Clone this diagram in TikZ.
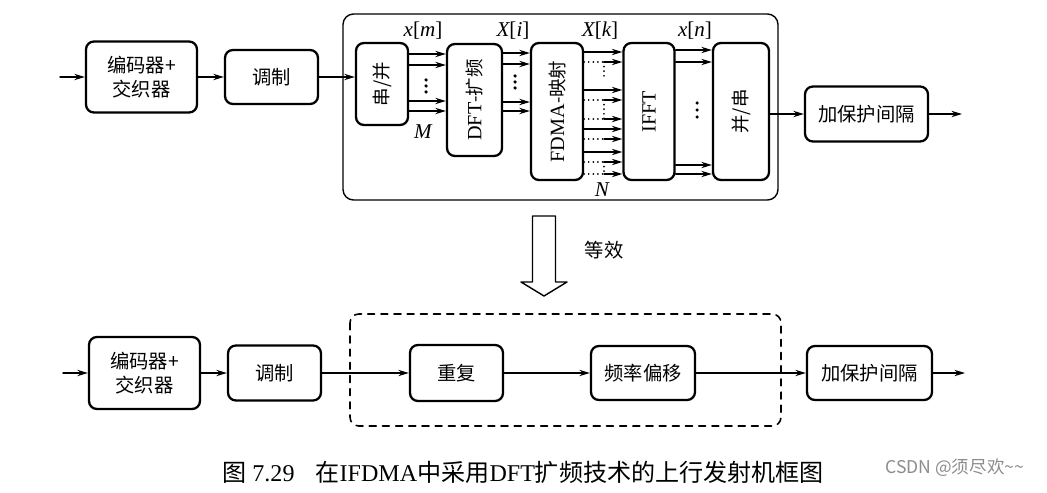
\documentclass[tikz,border=0pt]{standalone}
\usepackage{graphicx}
\usepackage{fontspec}
\setmainfont{Liberation Serif}
\newfontfamily\cjk{Noto Sans CJK SC}
\usepackage{tikz}
\usetikzlibrary{arrows.meta}

\begin{document}
\begin{tikzpicture}[line cap=round,line join=round,>={Stealth[length=6pt,width=3.6pt]},x=0.02cm,y=-0.02cm,
  blk/.style={draw,line width=1.3pt,rounded corners=4.5pt,inner sep=0pt,align=center,font=\cjk\fontsize{11}{14}\selectfont},
  vblk/.style={blk,font=\fontsize{11.5}{13}\selectfont},
  lnk/.style={->,line width=0.8pt},
  zero/.style={line width=1.1pt,dash pattern=on 0.01pt off 2.6pt},
  sig/.style={font=\fontsize{12}{14}\selectfont\itshape}]
\useasboundingbox (0,0) rectangle (1047,493);
%upper chain
\coordinate (in1) at (60,77);
\coordinate (out1) at (962,114);
\node[blk,minimum width=2.22cm,minimum height=1.42cm] (enc1) at (141.5,77) {编码器+\\交织器};
\node[blk,minimum width=1.86cm,minimum height=1.08cm] (mod1) at (271.5,77) {调制};
\node[vblk,minimum width=1.04cm,minimum height=1.64cm] (sp) at (382,84) {\rotatebox{90}{\cjk\fontsize{10.5}{12}\selectfont 串/并}};
\node[vblk,minimum width=1.1cm,minimum height=2.24cm] (dft) at (474.5,100) {\rotatebox{90}{DFT{\cjk\fontsize{10.5}{12}\selectfont -扩频}}};
\node[vblk,minimum width=1.04cm,minimum height=2.74cm] (map) at (557,111.5) {\rotatebox{90}{FDMA{\cjk\fontsize{10.5}{12}\selectfont -映射}}};
\node[vblk,minimum width=1.02cm,minimum height=2.74cm] (ifft) at (649,111.5) {\rotatebox{90}{IFFT}};
\node[vblk,minimum width=1.12cm,minimum height=2.74cm] (ps) at (741,111.5) {\rotatebox{90}{\cjk\fontsize{10.5}{12}\selectfont 并/串}};
\node[blk,minimum width=2.46cm,minimum height=1.1cm] (cp1) at (866.5,114) {加保护间隔};
\draw[line width=0.8pt,rounded corners=6pt] (343,14) rectangle (778,200);
\draw[lnk] (in1) -- (enc1);
\draw[lnk] (enc1) -- (mod1);
\draw[lnk] (mod1) -- (sp.west |- mod1);
\foreach \yy in {54,65,101,111} \draw[lnk] (sp.east |- 0,\yy) -- (dft.west |- 0,\yy);
\foreach \d in {80,86,92} \fill (426,\d) circle (1pt);
\foreach \yy in {53,64,102,111} \draw[lnk] (dft.east |- 0,\yy) -- (map.west |- 0,\yy);
\foreach \d in {76,82,88} \fill (515,\d) circle (1pt);
\foreach \yy in {52,90,129,152} \draw[lnk] (map.east |- 0,\yy) -- (ifft.west |- 0,\yy);
\foreach \yy in {62,100,119,139,162,174} {
  \draw[zero] (map.east |- 0,\yy) -- (604,\yy);
  \draw[lnk] (604,\yy) -- (ifft.west |- 0,\yy);
}
\draw[zero] (604,62) -- (604,80);
\draw[zero] (604,100) -- (604,119);
\draw[zero] (604,162) -- (604,174);
\foreach \yy in {50,62,165,174} \draw[lnk] (ifft.east |- 0,\yy) -- (ps.west |- 0,\yy);
\foreach \d in {103,110,117} \fill (697,\d) circle (1pt);
\draw[lnk] (ps.east |- cp1) -- (cp1);
\draw[lnk] (cp1) -- (out1);
\node[sig] (lxm) at (423,31) {x{\upshape[}m{\upshape]}};
\node[sig] (lXi) at (513,31) {X{\upshape[}i{\upshape]}};
\node[sig] (lXk) at (600,31) {X{\upshape[}k{\upshape]}};
\node[sig] (lxn) at (695,31) {x{\upshape[}n{\upshape]}};
\node[sig] (lM) at (423,132) {M};
\node[sig] (lN) at (602,190) {N};
%equivalence arrow
\draw[line width=0.8pt] (532.5,216) -- (555.5,216) -- (555.5,282) -- (567,282) -- (544,296) -- (521,282) -- (532.5,282) -- cycle;
\node[font=\cjk\fontsize{11}{13}\selectfont] (eq) at (604,250) {等效};
%lower chain
\coordinate (in2) at (63,373);
\coordinate (out2) at (965,373);
\node[blk,minimum width=2.22cm,minimum height=1.44cm] (enc2) at (144.5,373) {编码器+\\交织器};
\node[blk,minimum width=1.86cm,minimum height=1.1cm] (mod2) at (274.5,373) {调制};
\node[blk,minimum width=1.86cm,minimum height=1.12cm] (rep) at (456.5,373) {重复};
\node[blk,minimum width=2.08cm,minimum height=1.08cm] (shift) at (643,373) {频率偏移};
\node[blk,minimum width=2.5cm,minimum height=1.08cm] (cp2) at (869.5,373) {加保护间隔};
\draw[line width=0.9pt,dash pattern=on 4pt off 3.5pt,rounded corners=5pt] (350,314) rectangle (781,426);
\draw[lnk] (in2) -- (enc2);
\draw[lnk] (enc2) -- (mod2);
\draw[lnk] (mod2) -- (rep);
\draw[lnk] (rep) -- (shift);
\draw[lnk] (shift) -- (cp2);
\draw[lnk] (cp2) -- (out2);
%caption
\node[anchor=west,inner sep=0pt,font=\fontsize{13.7}{15}\selectfont] (cap) at (222,472) {{\cjk 图} 7.29\hspace{12pt}{\cjk 在}IFDMA{\cjk 中采用}DFT{\cjk 扩频技术的上行发射机框图}};
\node[anchor=west,inner sep=0pt,text=black!45,font=\cjk\fontsize{10}{12}\selectfont] (wm) at (885,468) {CSDN @须尽欢\textasciitilde\textasciitilde};
\end{tikzpicture}
\end{document}
